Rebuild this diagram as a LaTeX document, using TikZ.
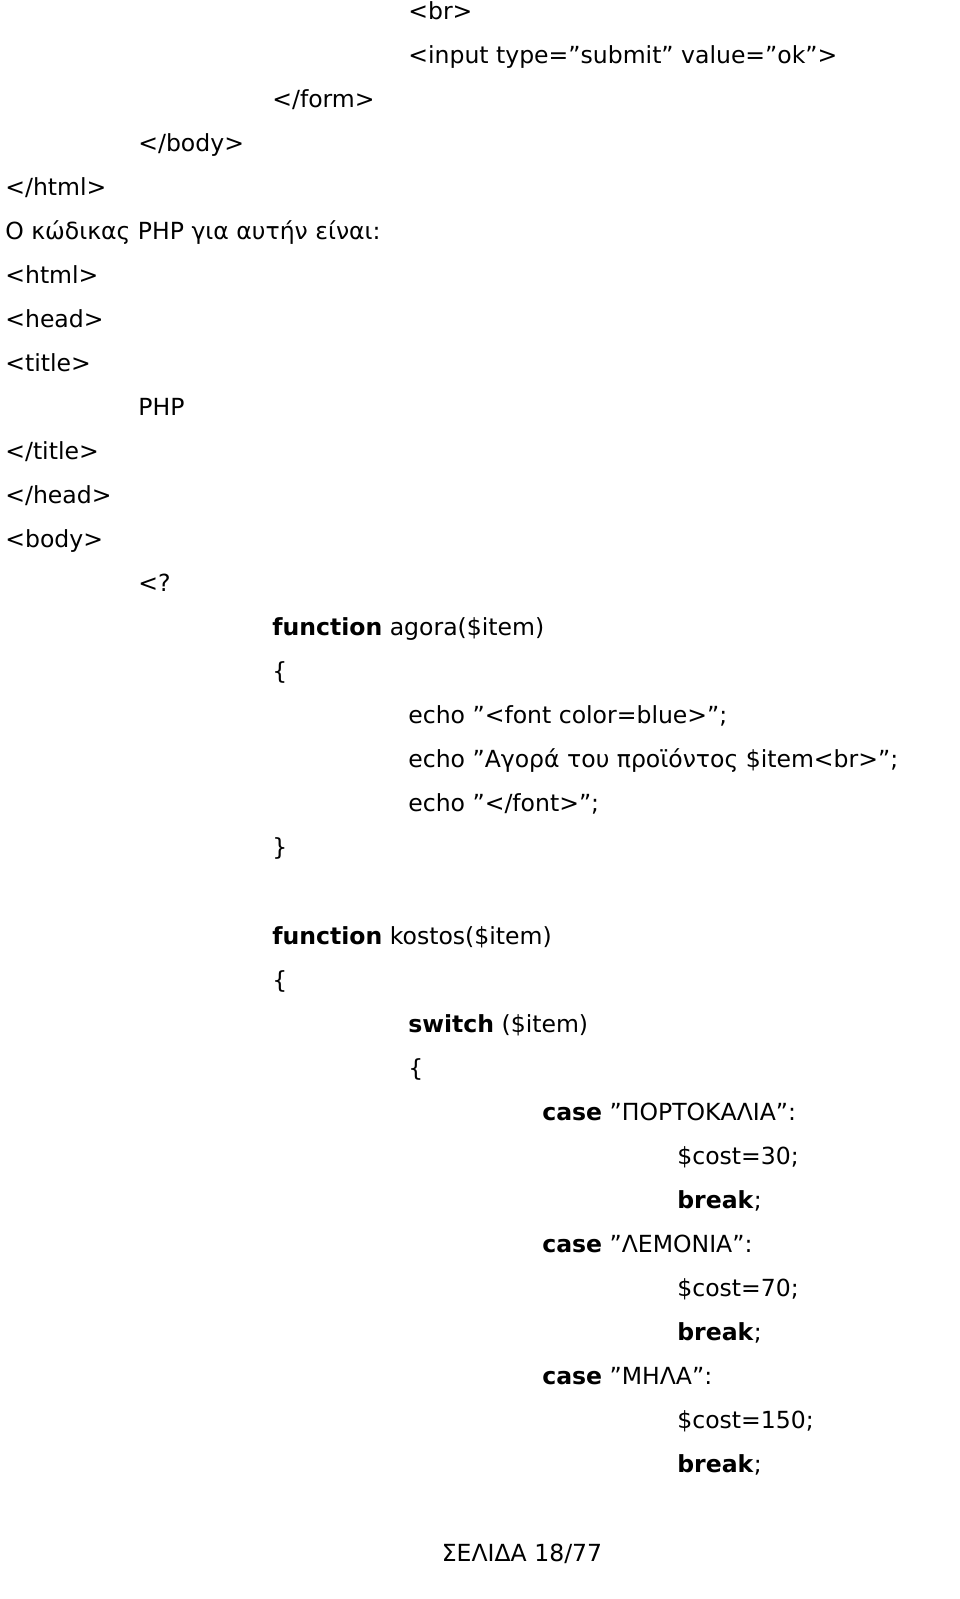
\documentclass[tikz,border=0pt]{standalone}
\usepackage{fontspec}
\setmainfont{DejaVu Sans}
\usetikzlibrary{positioning}

\begin{document}
\begin{tikzpicture}[x=0.02cm, y=-0.02cm,
    codeln/.style={anchor=base west, inner sep=0pt, font=\fontsize{13.4}{16}\selectfont},
    kw/.style={font=\fontsize{13.4}{16}\selectfont\bfseries}
  ]
    \useasboundingbox (0,0) rectangle (960,1599);
    % HTML
    \node[codeln] (br)    at (408,19)  {<br>};
    \node[codeln] (inp)   at (408,63)  {<input type="submit" value="ok">};
    \node[codeln] (form)  at (272,107) {</form>};
    \node[codeln] (bodyc) at (138,151) {</body>};
    \node[codeln] (htmlc) at (5,195)   {</html>};
    \node[codeln] (intro) at (5,239)   {Ο κώδικας PHP για αυτήν είναι:};
    \node[codeln] (html)  at (5,283)   {<html>};
    \node[codeln] (head)  at (5,327)   {<head>};
    \node[codeln] (title) at (5,371)   {<title>};
    \node[codeln] (php)   at (138,415) {PHP};
    \node[codeln] (titlec) at (5,459)  {</title>};
    \node[codeln] (headc) at (5,503)   {</head>};
    \node[codeln] (body)  at (5,547)   {<body>};
    \node[codeln] (open)  at (138,591) {<?};

    % agora
    \node[codeln] (fagora) at (272,635) {\textbf{function} agora(\$item)};
    \node[codeln] (ob1)   at (272,679) {\{};
    \node[codeln] (e1)    at (408,723) {echo "<font color=blue>";};
    \node[codeln] (e2)    at (408,767) {echo "Αγορά του προϊόντος \$item<br>";};
    \node[codeln] (e3)    at (408,811) {echo "</font>";};
    \node[codeln] (cb1)   at (272,855) {\}};

    % kostos
    \node[codeln] (fkost) at (272,944)  {\textbf{function} kostos(\$item)};
    \node[codeln] (ob2)   at (272,988)  {\{};
    \node[codeln] (sw)    at (408,1032) {\textbf{switch} (\$item)};
    \node[codeln] (ob3)   at (408,1076) {\{};
    \node[codeln] (c1)    at (542,1120) {\textbf{case} "ΠΟΡΤΟΚΑΛΙΑ":};
    \node[codeln] (s1)    at (677,1164) {\$cost=30;};
    \node[codeln] (b1)    at (677,1208) {\textbf{break};};
    \node[codeln] (c2)    at (542,1252) {\textbf{case} "ΛΕΜΟΝΙΑ":};
    \node[codeln] (s2)    at (677,1296) {\$cost=70;};
    \node[codeln] (b2)    at (677,1340) {\textbf{break};};
    \node[codeln] (c3)    at (542,1384) {\textbf{case} "ΜΗΛΑ":};
    \node[codeln] (s3)    at (677,1428) {\$cost=150;};
    \node[codeln] (b3)    at (677,1472) {\textbf{break};};

    % Υποσέλιδο
    \node[codeln, anchor=base] (foot) at (522,1561) {ΣΕΛΙΔΑ 18/77};
  \end{tikzpicture}
\end{document}
